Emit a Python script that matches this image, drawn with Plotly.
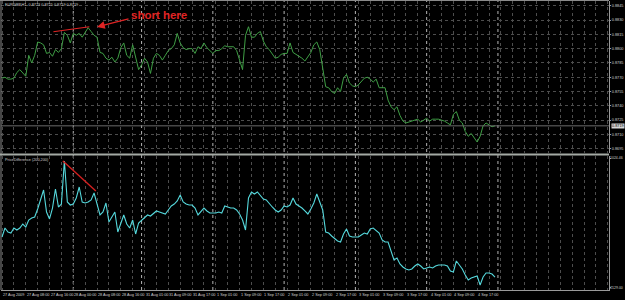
import plotly.graph_objects as go

# ---------------- data ----------------
bars = list(range(167))  # H1 bars, 27 Aug 2009 00:00 .. 4 Sep 2009 23:00

eurgbp_close = [
    0.8769, 0.8770, 0.8768, 0.8768, 0.8769, 0.8775, 0.8778, 0.8775, 0.8771, 0.8793,
    0.8785, 0.8793, 0.8807, 0.8806, 0.8804, 0.8795, 0.8796, 0.8792, 0.8799, 0.8796,
    0.8800, 0.8817, 0.8814, 0.8806, 0.8816, 0.8814, 0.8816, 0.8812, 0.8817, 0.8822,
    0.8818, 0.8814, 0.8812, 0.8796, 0.8795, 0.8790, 0.8788, 0.8791, 0.8786, 0.8790,
    0.8801, 0.8806, 0.8793, 0.8790, 0.8804, 0.8790, 0.8778, 0.8783, 0.8790, 0.8786,
    0.8774, 0.8790, 0.8795, 0.8793, 0.8788, 0.8793, 0.8798, 0.8800, 0.8804, 0.8816,
    0.8806, 0.8801, 0.8799, 0.8800, 0.8800, 0.8795, 0.8802, 0.8800, 0.8806, 0.8801,
    0.8798, 0.8795, 0.8798, 0.8798, 0.8800, 0.8803, 0.8802, 0.8802, 0.8802, 0.8798,
    0.8789, 0.8778, 0.8814, 0.8823, 0.8812, 0.8812, 0.8816, 0.8818, 0.8808, 0.8802,
    0.8799, 0.8794, 0.8790, 0.8791, 0.8794, 0.8795, 0.8795, 0.8806, 0.8796, 0.8794,
    0.8792, 0.8790, 0.8787, 0.8791, 0.8796, 0.8804, 0.8807, 0.8799, 0.8778, 0.8760,
    0.8759, 0.8755, 0.8753, 0.8759, 0.8755, 0.8769, 0.8773, 0.8764, 0.8761, 0.8760,
    0.8762, 0.8765, 0.8769, 0.8770, 0.8768, 0.8765, 0.8768, 0.8759, 0.8759, 0.8759,
    0.8746, 0.8739, 0.8736, 0.8739, 0.8730, 0.8724, 0.8722, 0.8723, 0.8724, 0.8725,
    0.8726, 0.8723, 0.8725, 0.8727, 0.8724, 0.8726, 0.8726, 0.8726, 0.8725, 0.8724,
    0.8722, 0.8720, 0.8731, 0.8734, 0.8725, 0.8722, 0.8713, 0.8708, 0.8711, 0.8707,
    0.8702, 0.8708, 0.8719, 0.8722, 0.8720, 0.8718, 0.8719,
]

price_difference = [
    -892, -674, -771, -795, -674, -722, -674, -577, -650, -480,
    -431, -407, -213, 6, 248, -286, -455, -189, 272, -164,
    -92, 952, -43, -116, -92, 54, 321, -43, -67, -43,
    6, 175, -67, -358, -286, -67, -528, -407, -286, -771,
    -552, -358, -577, -674, -480, -819, -552, -480, -431, -358,
    -383, -310, -261, -286, -310, -334, -237, -140, -92, -19,
    127, -43, -92, -116, -116, -189, -358, -261, -189, -261,
    -310, -310, -310, -286, -310, -140, -164, -189, -189, -237,
    -334, -480, -722, 54, 200, 151, 200, 127, 30, 6,
    -92, -164, -237, -286, -237, -140, -164, -116, 54, -92,
    -140, -189, -261, -334, -213, -67, 151, -43, -237, -771,
    -795, -868, -941, -989, -1013, -819, -698, -868, -892, -892,
    -892, -844, -795, -819, -698, -674, -747, -795, -965, -1013,
    -1013, -1208, -1450, -1402, -1547, -1620, -1668, -1693, -1668, -1596,
    -1547, -1596, -1668, -1644, -1620, -1644, -1596, -1571, -1571, -1571,
    -1596, -1717, -1741, -1474, -1571, -1668, -1814, -1935, -1887, -1863,
    -1838, -2057, -1863, -1765, -1765, -1790, -1863,
]

price_ticks = [0.8695, 0.8710, 0.8725, 0.8740, 0.8755, 0.8770, 0.8785, 0.8800, 0.8815, 0.8830, 0.8845]
ind_ticks = [-2129.00, 1024.46]
last_price = 0.8719

time_label_bars = [0, 8, 16, 24, 32, 40, 48, 56, 64, 72, 80, 88, 96, 104, 112, 120, 128, 136, 144, 152, 160]
time_labels = ["27 Aug 2009", "27 Aug 08:00", "27 Aug 16:00", "28 Aug 00:00", "28 Aug 08:00",
               "28 Aug 16:00", "31 Aug 01:00", "31 Aug 09:00", "31 Aug 17:00", "1 Sep 01:00",
               "1 Sep 09:00", "1 Sep 17:00", "2 Sep 01:00", "2 Sep 09:00", "2 Sep 17:00",
               "3 Sep 01:00", "3 Sep 09:00", "3 Sep 17:00", "4 Sep 01:00", "4 Sep 09:00",
               "4 Sep 17:00"]
day_separator_bars = [24, 47, 71, 95, 119, 143, 167]

# ---------------- figure ----------------
W, H = 625, 300
FG = "#cfcfcf"
GRID = "#4d4d4d"
FONT = "Liberation Sans, Arial, sans-serif"
TS = 3.8  # tiny MT4 label size

fig = go.Figure()
fig.add_trace(go.Scatter(x=bars, y=eurgbp_close, mode="lines", xaxis="x2", yaxis="y",
                         line=dict(color="#3f9f45", width=1), hoverinfo="skip"))
fig.add_trace(go.Scatter(x=bars, y=price_difference, mode="lines", xaxis="x", yaxis="y2",
                         line=dict(color="#55d8dc", width=1.1), hoverinfo="skip"))

xdom = [1 / W, 609 / W]
xrange = [-0.34, 204.4]
common_x = dict(domain=xdom, range=xrange, showgrid=True, gridcolor=GRID, griddash="dot",
                gridwidth=1, tick0=0, dtick=4, showticklabels=False, zeroline=False,
                ticks="")
fig.update_layout(
    width=W, height=H,
    margin=dict(l=0, r=0, t=0, b=0),
    paper_bgcolor="#000000", plot_bgcolor="#000000",
    showlegend=False,
    font=dict(family=FONT, color=FG, size=5),
    xaxis=dict(**common_x, anchor="y2", showline=True, linecolor="#9a9a9a", linewidth=1),
    xaxis2=dict(**common_x, anchor="y", matches="x", showline=False),
    yaxis=dict(domain=[1 - 153 / H, 1 - 1 / H], range=[0.86905, 0.88500], side="right",
               anchor="x2", tickvals=price_ticks, ticktext=[f"{v:.4f}" for v in price_ticks],
               showgrid=True, gridcolor=GRID, griddash="dot", zeroline=False,
               showline=True, linecolor="#9a9a9a", linewidth=1,
               ticks="outside", ticklen=1, tickcolor="#9a9a9a", ticklabelstandoff=0,
               tickfont=dict(size=TS, color=FG), automargin=False),
    yaxis2=dict(domain=[1 - 290 / H, 1 - 156 / H], range=[-2177.9, 1072.9], side="right",
                anchor="x", tickvals=ind_ticks, ticktext=["", ""],
                showgrid=False, zeroline=False,
                showline=True, linecolor="#9a9a9a", linewidth=1,
                ticks="outside", ticklen=1, tickcolor="#9a9a9a",
                tickfont=dict(size=TS, color=FG), automargin=False),
)

shapes = []
# day separators
for b in day_separator_bars:
    shapes.append(dict(type="line", xref="x", yref="paper", x0=b, x1=b, y0=1 - 290 / H, y1=1,
                       line=dict(color="#b4b4b4", width=1, dash="dot"), layer="below"))
# borders
shapes.append(dict(type="line", xref="paper", yref="paper", x0=0, x1=609 / W, y0=1 - 0.5 / H, y1=1 - 0.5 / H,
                   line=dict(color="#8a8a8a", width=1)))
shapes.append(dict(type="line", xref="paper", yref="paper", x0=1 / W, x1=1 / W, y0=1 - 290 / H, y1=1,
                   line=dict(color="#8a8a8a", width=1)))
# panel separator
shapes.append(dict(type="line", xref="paper", yref="paper", x0=0, x1=609 / W, y0=1 - 154.5 / H, y1=1 - 154.5 / H,
                   line=dict(color="#a4aaa4", width=2)))
# bid line
shapes.append(dict(type="line", xref="paper", yref="y", x0=1 / W, x1=609 / W, y0=last_price, y1=last_price,
                   line=dict(color="#6a6a6a", width=1)))
# red trend lines (drawing objects)
shapes.append(dict(type="line", xref="x", yref="y", x0=17.3, y0=0.88177, x1=29.4, y1=0.88230,
                   line=dict(color="#e02424", width=1.2)))
shapes.append(dict(type="line", xref="x", yref="y2", x0=20.5, y0=952, x1=31.6, y1=224,
                   line=dict(color="#d42020", width=1.4)))
fig.update_layout(shapes=shapes)

ann = []
for b, t in zip(time_label_bars, time_labels):
    ann.append(dict(x=b, xref="x", y=1 - 295 / H, yref="paper", text=t, showarrow=False,
                    xanchor="left", yanchor="middle", xshift=0, borderpad=0,
                    font=dict(size=TS, color=FG)))
# indicator window max / min labels
for v in ind_ticks:
    ann.append(dict(x=624 / W, xref="paper", y=v, yref="y2", text=f"{v:.2f}", showarrow=False,
                    xanchor="right", yanchor="middle", borderpad=0,
                    font=dict(size=3.5, color=FG)))
ann.append(dict(x=3 / W, xref="paper", y=1 - 4.5 / H, yref="paper",
                text="EURGBP,H1  0.8723 0.8725 0.8719 0.8719", showarrow=False,
                xanchor="left", yanchor="middle", font=dict(size=TS, color=FG)))
ann.append(dict(x=3 / W, xref="paper", y=1 - 160 / H, yref="paper",
                text="PriceDifference (200,200)", showarrow=False,
                xanchor="left", yanchor="middle", font=dict(size=TS, color=FG)))
ann.append(dict(x=610.5 / W, xref="paper", y=last_price, yref="y", text="0.8719", showarrow=False,
                xanchor="left", yanchor="middle", bgcolor="#d6d6d6", borderpad=0,
                font=dict(size=TS, color="#000000")))
ann.append(dict(x=159 / W, xref="paper", y=1 - 15 / H, yref="paper", text="<b>short here</b>",
                showarrow=False, xanchor="center", yanchor="middle",
                font=dict(size=11.5, color="#e02424", family=FONT)))
ann.append(dict(x=97 / W, xref="paper", y=1 - 27 / H, yref="paper", text="", showarrow=True,
                ax=33, ay=-8.5, axref="pixel", ayref="pixel",
                arrowhead=2, arrowsize=1.2, arrowwidth=1.3, arrowcolor="#e02424"))
fig.update_layout(annotations=ann)

fig.write_html("out.html")
